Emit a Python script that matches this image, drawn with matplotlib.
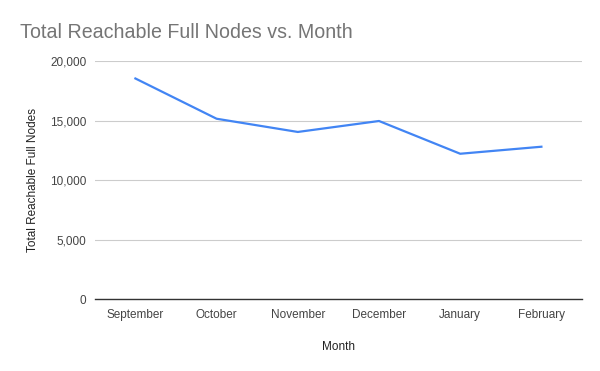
import matplotlib
matplotlib.use("Agg")
import matplotlib.pyplot as plt
from matplotlib.ticker import FuncFormatter

months = ["September", "October", "November", "December", "January", "February"]
nodes = [18550, 15170, 14060, 14980, 12230, 12820]
y_ticks = [0, 5000, 10000, 15000, 20000]

plt.rcParams['font.family'] = ['Liberation Sans', 'DejaVu Sans']

fig = plt.figure(figsize=(6, 3.71), dpi=100)
ax = fig.add_axes([0.158, 0.193, 0.812, 0.642])

x = list(range(len(months)))
ax.plot(x, nodes, color="#4285F4", linewidth=1.6, solid_joinstyle="round")

ax.set_xlim(-0.5, len(months) - 0.5)
ax.set_ylim(0, 20000)
ax.set_yticks(y_ticks)
ax.yaxis.set_major_formatter(FuncFormatter(lambda v, p: f"{int(v):,}"))
ax.set_xticks(x)
ax.set_xticklabels(months)

ax.grid(axis="y", color="#cccccc", linewidth=0.8)
ax.set_axisbelow(True)
for s in ["top", "right", "left"]:
    ax.spines[s].set_visible(False)
ax.spines["bottom"].set_color("#333333")
ax.spines["bottom"].set_linewidth(1.0)
ax.spines["bottom"].set_zorder(3)

ax.tick_params(axis="both", length=0, labelsize=8.5, labelcolor="#444444")
ax.tick_params(axis="y", pad=6)
ax.tick_params(axis="x", pad=7)

ax.set_ylabel("Total Reachable Full Nodes", fontsize=8.5, color="#222222", labelpad=8)
ax.set_xlabel("Month", fontsize=8.5, color="#222222", labelpad=14)

fig.text(20/600, 1 - 32/371, "Total Reachable Full Nodes vs. Month", fontsize=14.1,
         color="#757575", ha="left", va="center")

fig.savefig("out.png", dpi=100, facecolor="white")
